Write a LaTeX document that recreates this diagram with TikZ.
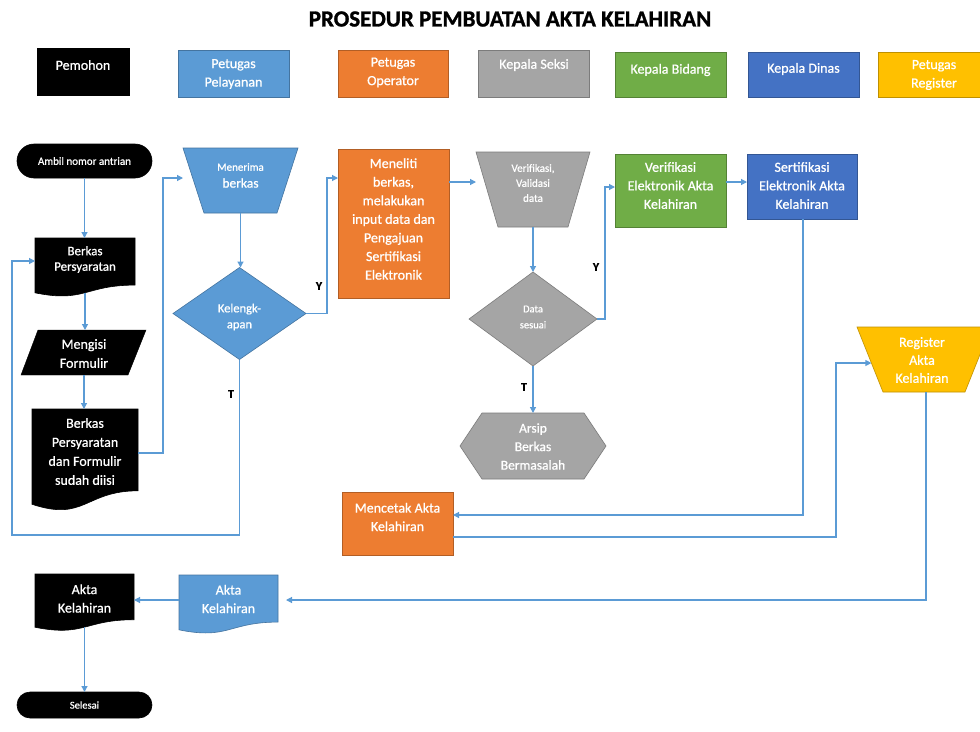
\documentclass[tikz,border=0pt]{standalone}
\usepackage{fontspec}
\setmainfont{Carlito}[BoldFeatures={FakeBold=1.2}]
\newfontfamily\hv{Carlito}[FakeBold=0.8]
\usetikzlibrary{arrows.meta,calc}
\definecolor{cblue}{HTML}{5B9BD5}
\definecolor{corange}{HTML}{ED7D31}
\definecolor{cgray}{HTML}{A5A5A5}
\definecolor{cgreen}{HTML}{70AD47}
\definecolor{cdblue}{HTML}{4472C4}
\definecolor{cyellow}{HTML}{FFC000}
\definecolor{cline}{HTML}{5B9BD5}
\tikzset{
  box/.style={inner sep=0pt, outer sep=0pt, draw=none},
  shp/.style={inner sep=0pt, outer sep=0pt, fill=#1, draw=#1!75!black, line width=0.6pt},
  wt/.style={text=white, align=center, inner sep=0pt, font=\hv\fontsize{14}{18.5}\selectfont},
  wts/.style={text=white, align=center, inner sep=0pt, font=\hv\fontsize{11}{15}\selectfont},
  conn/.style={draw=cline, line width=1.2pt, -{Triangle[length=6pt,width=6pt]}},
  yt/.style={font=\bfseries\fontsize{12}{14}\selectfont, inner sep=0pt, text=black},
}
% document shape: name, x1, y1, w, h, colour
\newcommand\docshape[6]{%
  \filldraw[fill=#6, draw=#6!75!black, line width=0.6pt] (#2,#3) -- ({#2+#4},#3) -- ({#2+#4},{#3+0.802*#5}) .. controls ({#2+0.5*#4},{#3+0.802*#5}) and ({#2+0.5*#4},{#3+1.107*#5}) .. (#2,{#3+0.934*#5}) -- cycle;
  \node[box, minimum width=#4pt, minimum height=#5pt] (#1) at ({#2+0.5*#4},{#3+0.5*#5}) {};
  \coordinate (#1-b) at ({#2+0.5*#4},{#3+0.933*#5});
}
% inverted trapezium: name, cx, ytop, ybot, halftop, halfbot, colour
\newcommand\trapshape[7]{%
  \filldraw[fill=#7, draw=#7!75!black, line width=0.6pt] ({#2-#5},#3) -- ({#2+#5},#3) -- ({#2+#6},#4) -- ({#2-#6},#4) -- cycle;
  \node[box, minimum width={2*#5*1pt}, minimum height={(#4-#3)*1pt}] (#1) at (#2,{(#3+#4)/2}) {};
}
% diamond: name, cx, cy, w, h, colour
\newcommand\diashape[6]{%
  \filldraw[fill=#6, draw=#6!75!black, line width=0.6pt] ({#2-#4/2},#3) -- (#2,{#3-#5/2}) -- ({#2+#4/2},#3) -- (#2,{#3+#5/2}) -- cycle;
  \node[box, minimum width=#4pt, minimum height=#5pt] (#1) at (#2,#3) {};
}
\begin{document}
\begin{tikzpicture}[x=1pt,y=-1pt]
\useasboundingbox (0,0) rectangle (980,731);
\fill[white] (0,0) rectangle (980,731);
\clip (0,0) rectangle (980,731);

% title
\node[font=\bfseries\fontsize{23}{26}\selectfont, inner sep=0pt] (title) at (510,19) {PROSEDUR PEMBUATAN AKTA KELAHIRAN};

% header row
\node[shp=black, minimum width=92pt, minimum height=47pt] (hpem) at (83,71.5) {};
\node[wt] (tpem) at (83,65) {Pemohon};
\node[shp=cblue, minimum width=111pt, minimum height=47pt] (hpel) at (233.5,73.5) {};
\node[wt] (tpel) at (233.5,74) {Petugas\\Pelayanan};
\node[shp=corange, minimum width=110pt, minimum height=47pt] (hop) at (393,73.5) {};
\node[wt] (top) at (393,72.5) {Petugas\\Operator};
\node[shp=cgray, minimum width=111pt, minimum height=47pt] (hsek) at (533.5,73.5) {};
\node[wt] (tsek) at (534,65) {Kepala Seksi};
\node[shp=cgreen, minimum width=111pt, minimum height=45pt] (hbid) at (670.5,74.5) {};
\node[wt] (tbid) at (670.5,70) {Kepala Bidang};
\node[shp=cdblue, minimum width=111pt, minimum height=45pt] (hdin) at (803.5,74.5) {};
\node[wt] (tdin) at (803.5,69) {Kepala Dinas};
\node[shp=cyellow, minimum width=112pt, minimum height=45pt] (hreg) at (934,74.5) {};
\node[wt] (treg) at (934,75) {Petugas\\Register};

% left column (Pemohon)
\node[shp=black, rounded corners=17pt, minimum width=135pt, minimum height=34pt, wts] (amb) at (84.5,161) {Ambil nomor antrian};
\docshape{bp}{35}{238}{100}{58.7}{black}
\node[wt, font=\hv\fontsize{13}{15.5}\selectfont] (tbp) at (85,259.5) {Berkas\\Persyaratan};
\filldraw[fill=black, draw=black] (38,330) -- (146,330) -- (128,375) -- (21,375) -- cycle;
\node[box, minimum width=125pt, minimum height=45pt] (mf) at (84,352.5) {};
\node[wt, font=\hv\fontsize{14}{19}\selectfont] (tmf) at (84,353.5) {Mengisi\\Formulir};
\docshape{bpf}{32}{409}{106}{102}{black}
\node[wt, font=\hv\fontsize{14}{19}\selectfont] (tbpf) at (85,451.5) {Berkas\\Persyaratan\\dan Formulir\\sudah diisi};
\docshape{akk}{35}{574}{99}{57}{black}
\node[wt] (takk) at (84.5,598.5) {Akta\\Kelahiran};
\node[shp=black, rounded corners=13pt, minimum width=135pt, minimum height=26pt, wts, font=\hv\fontsize{10.5}{13}\selectfont] (sel) at (84.5,705) {Selesai};

% Petugas Pelayanan
\trapshape{men}{240.5}{148}{213}{57.5}{36.5}{cblue}
\node[wts] (tmen1) at (240.5,167) {Menerima};
\node[wt, font=\hv\fontsize{13.5}{16}\selectfont] (tmen2) at (240.5,183) {berkas};
\diashape{kel}{239.5}{313.5}{133}{92}{cblue}
\node[wt, font=\hv\fontsize{12.5}{16}\selectfont] (tkel) at (239.5,317) {Kelengk-\\apan};
\docshape{akb}{179}{575}{99}{58.7}{cblue}
\node[wt] (takb) at (228.5,599) {Akta\\Kelahiran};

% Petugas Operator
\node[shp=corange, minimum width=111pt, minimum height=149pt] (met) at (393.5,223.5) {};
\node[wt, font=\hv\fontsize{14}{18.6}\selectfont] (tmet) at (393.5,219) {Meneliti\\berkas,\\melakukan\\input data dan\\Pengajuan\\Sertifikasi\\Elektronik};
\node[shp=corange, minimum width=111pt, minimum height=63pt] (mca) at (397.5,523.5) {};
\node[wt] (tmca) at (397.5,517) {Mencetak Akta\\Kelahiran};

% Kepala Seksi
\trapshape{ver}{533}{152}{227}{57}{35}{cgray}
\node[wts, font=\hv\fontsize{11}{15}\selectfont] (tver) at (533,183) {Verifikasi,\\Validasi\\data};
\diashape{ds}{533}{319}{128}{94}{cgray}
\node[wts, font=\hv\fontsize{10.5}{16}\selectfont] (tds) at (533,317) {Data\\sesuai};
\filldraw[fill=cgray, draw=cgray!75!black, line width=0.6pt] (460,446) -- (482,413) -- (584,413) -- (606,446) -- (584,479) -- (482,479) -- cycle;
\node[box, minimum width=146pt, minimum height=66pt] (arsip) at (533,446) {};
\node[wt, font=\hv\fontsize{13.5}{18.5}\selectfont] (tarsip) at (533,446.5) {Arsip\\Berkas\\Bermasalah};

% Kepala Bidang / Dinas
\node[shp=cgreen, minimum width=111pt, minimum height=73pt] (vea) at (670.5,190.5) {};
\node[wt] (tvea) at (670.5,185.5) {Verifikasi\\Elektronik Akta\\Kelahiran};
\node[shp=cdblue, minimum width=110pt, minimum height=65pt] (sea) at (802,186.5) {};
\node[wt] (tsea) at (802,185.5) {Sertifikasi\\Elektronik Akta\\Kelahiran};

% Petugas Register
\trapshape{reg}{924}{327}{392}{67}{41}{cyellow}
\node[wt, font=\hv\fontsize{14}{18}\selectfont] (treg2) at (922,360) {Register\\Akta\\Kelahiran};

% connectors
\coordinate (k4a) at (163,453);
\coordinate (k4b) at (163,178);
\coordinate (k6a) at (327,313.5);
\coordinate (k6b) at (327,178);
\coordinate (k7b) at (12,535);
\coordinate (k7c) at (12,261);
\coordinate (k8) at (460,182);
\coordinate (k10a) at (605,319);
\coordinate (k10b) at (605,187);
\coordinate (k12) at (736,182);
\coordinate (k13) at (803,515);
\coordinate (k14a) at (836,537);
\coordinate (k14b) at (836,363);
\coordinate (k14c) at (871.4,363);
\coordinate (k15a) at (926,392);
\coordinate (k15b) at (926,600);
\coordinate (k16) at (150,600);

\draw[conn] (amb.south) -- (amb.south |- bp.north);
\draw[conn] (bp-b) -- (bp-b |- mf.north);
\draw[conn] (mf.south) -- (mf.south |- bpf.north);
\draw[conn] (k4a -| bpf.east) -- (k4a) -- (k4b) -- (k4b -| men.west);
\draw[conn] (men.south) -- (men.south |- kel.north);
\draw[conn] (kel.east) -- (k6a) -- (k6b) -- (k6b -| met.west);
\draw[conn] (kel.south) -- (kel.south |- k7b) -- (k7b) -- (k7c) -- (k7c -| bp.west);
\draw[conn] (k8 -| met.east) -- (k8 -| ver.west);
\draw[conn] (ver.south) -- (ver.south |- ds.north);
\draw[conn] (ds.east) -- (k10a) -- (k10b) -- (k10b -| vea.west);
\draw[conn] (ds.south) -- (ds.south |- arsip.north);
\draw[conn] (k12 -| vea.east) -- (k12 -| sea.west);
\draw[conn] (k13 |- sea.south) -- (k13) -- (k13 -| mca.east);
\draw[conn] (k14a -| mca.east) -- (k14a) -- (k14b) -- (k14c);
\draw[conn, shorten >=8pt] (k15a) -- (k15b) -- (k15b -| akb.east);
\draw[conn] (k16 -| akb.west) -- (k16 -| akk.east);
\draw[conn] (akk-b) -- (akk-b |- sel.north);

% labels
\node[yt] (ly1) at (319,286) {Y};
\node[yt] (lt1) at (231,394) {T};
\node[yt] (ly2) at (596,267) {Y};
\node[yt] (lt2) at (524,387) {T};
\end{tikzpicture}
\end{document}
